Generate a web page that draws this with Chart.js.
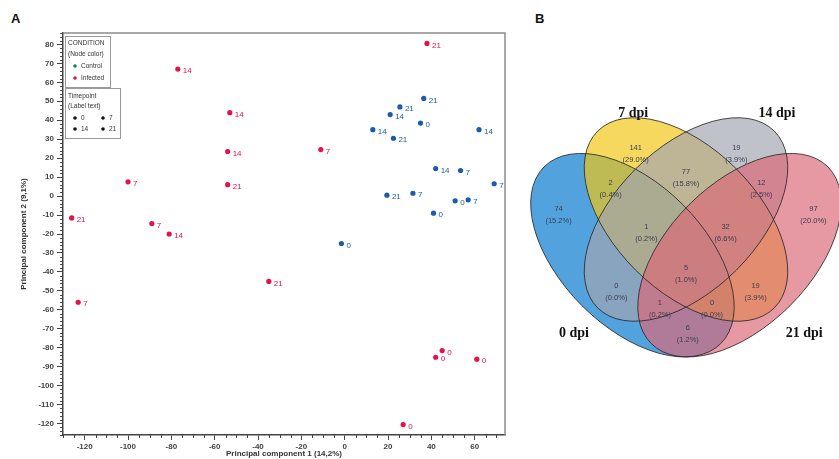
<!DOCTYPE html>
<html>
<head>
<meta charset="utf-8">
<script src="https://cdn.jsdelivr.net/npm/chart.js@4.4.0/dist/chart.umd.min.js"></script>
<style>
  body { margin: 0; background: #fff; width: 839px; height: 459px; overflow: hidden; position: relative; }
  #pca { position: absolute; left: 0; top: 0; }
  #venn { position: absolute; left: 500px; top: 90px; }
  .panel { position: absolute; font: bold 13px Arial, "Liberation Sans", sans-serif; color: #111; }
</style>
</head>
<body>
<div class="panel" style="left:11px;top:11px">A</div>
<div class="panel" style="left:535px;top:11px">B</div>
<canvas id="pca" width="515" height="459"></canvas>
<canvas id="venn" width="339" height="310"></canvas>
<script>
// PCA scores
const infectedX = [38, -77, -53, -54, -11, -54, -100, -126, -89, -81, -123, -35, 45, 42, 61, 27];
const infectedY = [80.5, 67, 44, 23.5, 24.5, 6, 7.5, -11.5, -14.5, -20, -56, -45, -81.5, -85, -86, -120.5];
const infectedDay = ['21', '14', '14', '14', '7', '21', '7', '21', '7', '14', '7', '21', '0', '0', '0', '0'];

const controlX = [36.5, 25.5, 21, 35, 13, 22.5, 62, 42, 53.5, 69, 19.5, 31.5, 51, 57, 41, -1.5];
const controlY = [51.5, 47, 43, 38.5, 35, 30.5, 35, 14.5, 13.5, 6.5, 0.5, 1.5, -2.5, -2, -9, -25];
const controlDay = ['21', '21', '14', '0', '14', '21', '14', '14', '7', '7', '21', '7', '0', '7', '0', '0'];

const xTicks = [-120, -100, -80, -60, -40, -20, 0, 20, 40, 60];
const yTicks = [-120, -110, -100, -90, -80, -70, -60, -50, -40, -30, -20, -10, 0, 10, 20, 30, 40, 50, 60, 70, 80];

// Venn counts (panel B)
const setNames = ['0 dpi', '7 dpi', '14 dpi', '21 dpi'];
const regionKeys = ['0', '7', '14', '21', '0+7', '7+14', '14+21', '0+7+14', '7+14+21', 'all', '0+14', '7+21', '0+7+21', '0+14+21', '0+21'];
const regionCounts = [74, 141, 19, 97, 2, 77, 12, 1, 32, 5, 0, 19, 1, 0, 6];

Chart.defaults.font.family = 'Arial, "Liberation Sans", sans-serif';

const RED = '#e3124b';
const BLUE = '#1b5caa';

const pointLabels = {
  id: 'pointLabels',
  afterDatasetsDraw(chart) {
    const ctx = chart.ctx;
    ctx.save();
    ctx.font = '8px Arial, "Liberation Sans", sans-serif';
    ctx.textBaseline = 'middle';
    chart.data.datasets.forEach((ds, i) => {
      ctx.fillStyle = ds.borderColor;
      chart.getDatasetMeta(i).data.forEach((pt, j) => {
        ctx.fillText(ds.days[j], pt.x + 5, pt.y + 2);
      });
    });
    ctx.restore();
  }
};

const frame = {
  id: 'frame',
  beforeDatasetsDraw(chart) {
    const { ctx, chartArea: a, scales: { x, y } } = chart;
    ctx.save();
    ctx.strokeStyle = '#8c8c8c';
    ctx.lineWidth = 1.5;
    ctx.beginPath();
    ctx.moveTo(a.left, a.top);
    ctx.lineTo(a.right, a.top);
    ctx.lineTo(a.right, a.bottom);
    ctx.stroke();
    // minor ticks
    ctx.strokeStyle = '#444';
    ctx.lineWidth = 1;
    ctx.beginPath();
    for (let v = Math.ceil(x.min / 5) * 5; v <= x.max; v += 5) {
      if (v % 20 === 0) continue;
      const p = Math.round(x.getPixelForValue(v)) + 0.5;
      ctx.moveTo(p, a.bottom);
      ctx.lineTo(p, a.bottom + 3);
    }
    for (let v = Math.ceil(y.min / 2) * 2; v <= y.max; v += 2) {
      if (v % 10 === 0) continue;
      const p = Math.round(y.getPixelForValue(v)) + 0.5;
      ctx.moveTo(a.left - 3, p);
      ctx.lineTo(a.left, p);
    }
    ctx.stroke();
    ctx.restore();
  }
};

const legendBoxes = {
  id: 'legendBoxes',
  afterDraw(chart) {
    const ctx = chart.ctx;
    const dot = (x, y, c) => { ctx.fillStyle = c; ctx.beginPath(); ctx.arc(x, y, 1.8, 0, Math.PI * 2); ctx.fill(); };
    ctx.save();
    ctx.fillStyle = '#fff';
    ctx.strokeStyle = '#9a9a9a';
    ctx.lineWidth = 1;
    ctx.fillRect(65, 36, 45, 51);
    ctx.strokeRect(65.5, 36.5, 45, 51);
    ctx.fillRect(65, 88, 55, 50);
    ctx.strokeRect(65.5, 88.5, 55, 50);
    ctx.font = '6.5px Arial, "Liberation Sans", sans-serif';
    ctx.textBaseline = 'middle';
    ctx.fillStyle = '#333';
    ctx.fillText('CONDITION', 68, 43);
    ctx.fillText('(Node color)', 68, 54);
    ctx.fillText('Control', 81, 66);
    ctx.fillText('Infected', 81, 78);
    dot(75, 66, '#1f7a63');
    dot(75, 78, RED);
    ctx.fillStyle = '#333';
    ctx.fillText('Timepoint', 68, 96);
    ctx.fillText('(Label text)', 68, 106);
    ctx.fillText('0', 81, 118);
    ctx.fillText('7', 109, 118);
    ctx.fillText('14', 81, 129);
    ctx.fillText('21', 109, 129);
    dot(75, 118, '#111'); dot(103, 118, '#111');
    dot(75, 129, '#111'); dot(103, 129, '#111');
    ctx.restore();
  }
};

new Chart(document.getElementById('pca'), {
  type: 'scatter',
  data: {
    datasets: [
      {
        label: 'Infected',
        data: infectedX.map((v, i) => ({ x: v, y: infectedY[i] })),
        days: infectedDay,
        backgroundColor: RED,
        borderColor: RED,
        pointRadius: 2.6,
        pointBorderWidth: 0
      },
      {
        label: 'Control',
        data: controlX.map((v, i) => ({ x: v, y: controlY[i] })),
        days: controlDay,
        backgroundColor: BLUE,
        borderColor: BLUE,
        pointRadius: 2.6,
        pointBorderWidth: 0
      }
    ]
  },
  options: {
    responsive: false,
    animation: false,
    events: [],
    layout: { padding: { top: 33, right: 10 } },
    plugins: { legend: { display: false }, tooltip: { enabled: false } },
    scales: {
      x: {
        type: 'linear',
        min: -130,
        max: 74,
        afterBuildTicks: s => { s.ticks = xTicks.map(v => ({ value: v })); },
        afterFit: s => { s.height = 24; },
        grid: { drawOnChartArea: false, tickLength: 5, color: '#444' },
        border: { color: '#444', width: 1.5 },
        ticks: { font: { size: 8, weight: 'bold' }, color: '#444', padding: 2, maxRotation: 0, autoSkip: false },
        title: { display: true, text: 'Principal component 1 (14,2%)', font: { size: 8, weight: 'bold' }, color: '#333', padding: 0 }
      },
      y: {
        type: 'linear',
        min: -126,
        max: 86,
        afterBuildTicks: s => { s.ticks = yTicks.map(v => ({ value: v })); },
        afterFit: s => { s.width = 63; },
        grid: { drawOnChartArea: false, tickLength: 6, color: '#444' },
        border: { color: '#444', width: 1.5 },
        ticks: { font: { size: 8, weight: 'bold' }, color: '#444', padding: 3, autoSkip: false },
        title: { display: true, text: 'Principal component 2 (9,1%)', font: { size: 8, weight: 'bold' }, color: '#333', padding: { top: 19, bottom: 0 } }
      }
    }
  },
  plugins: [frame, pointLabels, legendBoxes]
});

// Venn layout (unit square, VennDiagram style ellipses)
const ellipses = [
  { cx: 0.35, cy: 0.40, rot: Math.PI / 4 },
  { cx: 0.50, cy: 0.50, rot: Math.PI / 4 },
  { cx: 0.50, cy: 0.50, rot: -Math.PI / 4 },
  { cx: 0.65, cy: 0.40, rot: -Math.PI / 4 }
];
const fills = ['rgba(0,119,205,0.68)', 'rgba(241,198,19,0.68)', 'rgba(162,165,176,0.68)', 'rgba(219,105,119,0.68)'];
const nameSpots = [[0.186, 0.182], [0.352, 0.798], [0.755, 0.798], [0.831, 0.182]];
const regionSpots = [
  [0.143, 0.513], [0.359, 0.683], [0.641, 0.683], [0.857, 0.513],
  [0.289, 0.585], [0.5, 0.615], [0.711, 0.585],
  [0.389, 0.461], [0.611, 0.461], [0.5, 0.347],
  [0.305, 0.298], [0.695, 0.298], [0.427, 0.249], [0.573, 0.249], [0.505, 0.179]
];

const vennDraw = {
  id: 'vennDraw',
  afterDraw(chart) {
    const { ctx, scales: { x, y } } = chart;
    const unit = x.getPixelForValue(1) - x.getPixelForValue(0);
    const total = regionCounts.reduce((s, v) => s + v, 0);
    ctx.save();
    ellipses.forEach((e, i) => {
      ctx.beginPath();
      ctx.ellipse(x.getPixelForValue(e.cx), y.getPixelForValue(e.cy), 0.35 * unit, 0.2 * unit, e.rot, 0, Math.PI * 2);
      ctx.fillStyle = fills[i];
      ctx.fill();
    });
    ctx.strokeStyle = 'rgba(40,40,40,0.85)';
    ctx.lineWidth = 1;
    ellipses.forEach(e => {
      ctx.beginPath();
      ctx.ellipse(x.getPixelForValue(e.cx), y.getPixelForValue(e.cy), 0.35 * unit, 0.2 * unit, e.rot, 0, Math.PI * 2);
      ctx.stroke();
    });
    ctx.textAlign = 'center';
    ctx.textBaseline = 'middle';
    ctx.font = '7.5px Arial, "Liberation Sans", sans-serif';
    ctx.fillStyle = '#3a3d52';
    regionCounts.forEach((c, i) => {
      const px = x.getPixelForValue(regionSpots[i][0]);
      const py = y.getPixelForValue(regionSpots[i][1]);
      ctx.fillText(String(c), px, py - 6);
      ctx.fillText('(' + (c / total * 100).toFixed(1) + '%)', px, py + 6);
    });
    ctx.font = 'bold 14px "Liberation Serif", "Times New Roman", serif';
    ctx.fillStyle = '#111';
    setNames.forEach((n, i) => {
      ctx.fillText(n, x.getPixelForValue(nameSpots[i][0]), y.getPixelForValue(nameSpots[i][1]));
    });
    ctx.restore();
  }
};

new Chart(document.getElementById('venn'), {
  type: 'scatter',
  data: { datasets: [] },
  options: {
    responsive: false,
    animation: false,
    events: [],
    layout: { padding: 0 },
    plugins: { legend: { display: false }, tooltip: { enabled: false } },
    scales: {
      x: { type: 'linear', display: false, min: -0.021, max: 0.9286 },
      y: { type: 'linear', display: false, min: -0.0056, max: 0.8627 }
    }
  },
  plugins: [vennDraw]
});
</script>
</body>
</html>
